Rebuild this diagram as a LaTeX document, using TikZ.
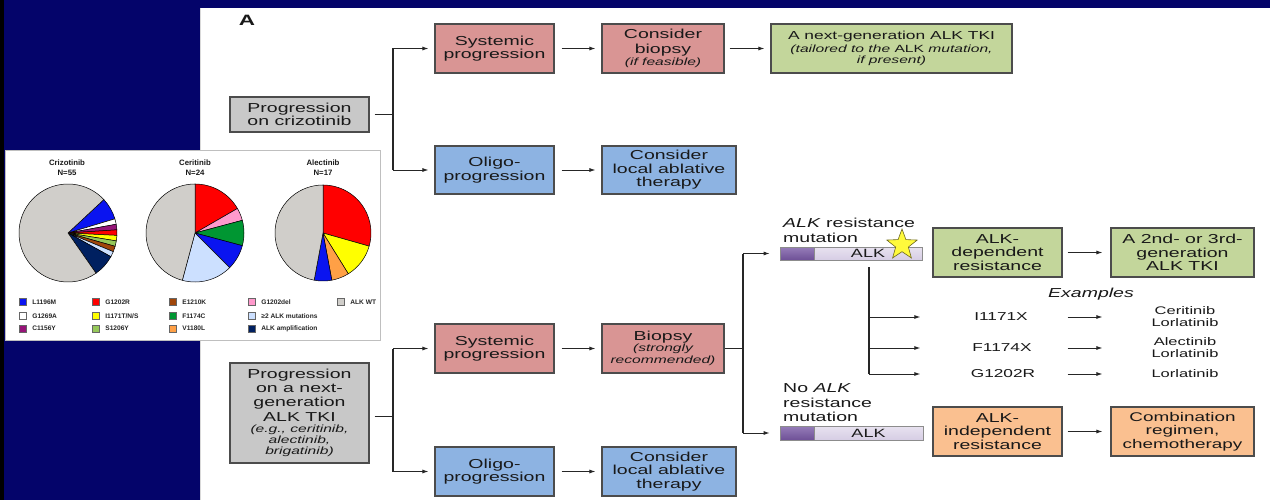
\documentclass[tikz,border=0pt]{standalone}
\usepackage{fontspec}
\setmainfont{Liberation Sans}[FakeStretch=1.5]
\newfontfamily\piefont{Liberation Sans}
\usetikzlibrary{arrows.meta,shapes.geometric}
\definecolor{navy}{RGB}{4,4,106}
\definecolor{boxgray}{RGB}{200,200,200}
\definecolor{boxpink}{RGB}{217,149,148}
\definecolor{boxblue}{RGB}{141,179,226}
\definecolor{boxgreen}{RGB}{195,214,155}
\definecolor{boxorange}{RGB}{250,192,144}
\definecolor{piegray}{RGB}{208,206,202}
\definecolor{pblue}{RGB}{10,20,240}
\definecolor{pred}{RGB}{255,0,0}
\definecolor{pgreen}{RGB}{0,150,50}
\definecolor{pyellow}{RGB}{255,255,0}
\definecolor{ppink}{RGB}{255,153,204}
\definecolor{plblue}{RGB}{204,224,255}
\definecolor{pnavy}{RGB}{0,32,96}
\definecolor{pbrown}{RGB}{160,70,10}
\definecolor{ppurple}{RGB}{150,20,120}
\definecolor{plgreen}{RGB}{150,200,90}
\definecolor{porange}{RGB}{255,160,70}
\definecolor{pwhite}{RGB}{255,255,255}
\definecolor{alkdark}{RGB}{110,80,150}
\definecolor{alklight}{RGB}{150,125,185}
\definecolor{alkpale}{RGB}{232,226,240}
\definecolor{alkpale2}{RGB}{214,205,228}
\definecolor{stary}{RGB}{255,250,60}
\newcommand\subit[1]{{\fontsize{10.4}{12}\selectfont\itshape #1}}
\begin{document}
\begin{tikzpicture}[x=1pt,y=-1pt,
  box/.style={draw=black!70, line width=1.1pt, align=center, inner sep=0pt,
    text=black!90, font=\fontsize{13}{13.5}\selectfont},
  conn/.style={line width=1pt, draw=black!85},
  branch/.style={line width=1.8pt, draw=black!85},
  arr/.style={line width=0.9pt, draw=black!85, -{Latex[length=6pt,width=4pt]}},
  lbl/.style={inner sep=0pt, text=black!90},
  ptitle/.style={inner sep=0pt, align=center, text=black!90, font=\piefont\bfseries\fontsize{7.8}{10}\selectfont},
  legtext/.style={inner sep=0pt, anchor=west, text=black!85, font=\piefont\bfseries\fontsize{6.6}{7}\selectfont},
  swatch/.style={draw=black!60, line width=0.4pt, minimum size=7pt, inner sep=0pt},
  slice/.style={draw=black, line width=0.5pt},
]
\useasboundingbox (0,0) rectangle (1270,500);
% background
\fill[navy] (0,0) rectangle (1270,8);
\fill[navy] (0,0) rectangle (200,500);
\fill[black] (0,0) rectangle (4,500);
\fill[white] (200,8) rectangle (1270,500);
\draw[black!15, line width=0.6pt] (200.3,8) -- (200.3,500);

\node[font=\bfseries\fontsize{15}{15}\selectfont, lbl] (lblA) at (247,20) {A};

% ---------- top section ----------
\node[box, fill=boxgray, minimum width=139, minimum height=35, font=\fontsize{13}{13.3}\selectfont] (prog1) at (299.5,114.5) {Progression\\on crizotinib};
\node[box, fill=boxpink, minimum width=119, minimum height=49] (sys1) at (494.5,48.5) {Systemic\\progression};
\node[box, fill=boxpink, minimum width=122, minimum height=49] (biop1) at (663,48.5) {Consider\\[1.2pt]biopsy\\[-1.5pt]\subit{(if feasible)}};
\node[box, fill=boxgreen, minimum width=241, minimum height=49, font=\fontsize{11.6}{13.5}\selectfont] (nextgen) at (891.5,48.5) {A next-generation ALK TKI\\[-1pt]\subit{(tailored to the \upshape ALK \itshape mutation,}\\[-2.5pt]\subit{if present)}};
\node[box, fill=boxblue, minimum width=119, minimum height=48] (oligo1) at (494.5,170) {Oligo-\\progression};
\node[box, fill=boxblue, minimum width=134, minimum height=48] (local1) at (669,170) {Consider\\local ablative\\therapy};

\coordinate (b1) at (393,114.5);
\draw[conn] ([xshift=5pt]prog1.east) -- (b1);
\draw[branch] (b1 |- sys1.west) -- (b1 |- oligo1.west);
\draw[arr] (b1 |- sys1.west) -- ([xshift=-6pt]sys1.west);
\draw[arr] (b1 |- oligo1.west) -- ([xshift=-6pt]oligo1.west);
\draw[arr] ([xshift=7pt]sys1.east) -- ([xshift=-6pt]biop1.west);
\draw[arr] ([xshift=5pt]biop1.east) -- ([xshift=-6pt]nextgen.west);
\draw[arr] ([xshift=7pt]oligo1.east) -- ([xshift=-6pt]local1.west);

% ---------- bottom section ----------
\node[box, fill=boxgray, minimum width=139, minimum height=100, font=\fontsize{13}{14.3}\selectfont] (prog2) at (299.5,413) {Progression\\on a next-\\generation\\ALK TKI\\[-3.2pt]\subit{(e.g., ceritinib,}\\[-3pt]\subit{alectinib,}\\[-3pt]\subit{brigatinib)}};
\node[box, fill=boxpink, minimum width=119, minimum height=49] (sys2) at (494.5,348.5) {Systemic\\progression};
\node[box, fill=boxpink, minimum width=122, minimum height=49] (biop2) at (663,348.5) {Biopsy\\[-2.5pt]\subit{(strongly}\\[-1.5pt]\subit{recommended)}};
\node[box, fill=boxblue, minimum width=119, minimum height=49] (oligo2) at (494.5,471.5) {Oligo-\\progression};
\node[box, fill=boxblue, minimum width=134, minimum height=49] (local2) at (669,471.5) {Consider\\local ablative\\therapy};

\coordinate (b2) at (393,416);
\draw[conn] ([xshift=5pt]prog2.east |- b2) -- (b2);
\draw[branch] (b2 |- sys2.west) -- (b2 |- oligo2.west);
\draw[arr] (b2 |- sys2.west) -- ([xshift=-6pt]sys2.west);
\draw[arr] (b2 |- oligo2.west) -- ([xshift=-6pt]oligo2.west);
\draw[arr] ([xshift=7pt]sys2.east) -- ([xshift=-6pt]biop2.west);
\draw[arr] ([xshift=7pt]oligo2.east) -- ([xshift=-6pt]local2.west);

% ALK bars
\node[draw=black!45, line width=0.7pt, top color=alklight, bottom color=alkdark, minimum width=34, minimum height=13, inner sep=0] (dom1) at (797,253.5) {};
\node[draw=black!45, line width=0.7pt, top color=alkpale, bottom color=alkpale2, minimum width=108, minimum height=13, inner sep=0, font=\fontsize{12}{12}\selectfont, text=black!90] (alk1) at (868,253.5) {ALK};
\node[draw=black!45, line width=0.7pt, top color=alklight, bottom color=alkdark, minimum width=34, minimum height=14, inner sep=0] (dom2) at (797,433) {};
\node[draw=black!45, line width=0.7pt, top color=alkpale, bottom color=alkpale2, minimum width=109, minimum height=14, inner sep=0, font=\fontsize{12}{12}\selectfont, text=black!90] (alk2) at (868.5,433) {ALK};
\node[star, star points=5, star point ratio=2.4, minimum size=32pt, inner sep=0pt, fill=stary, draw=olive!70!black, line width=0.6pt] (star) at (902,245) {};

\node[lbl, anchor=north west, align=left, font=\fontsize{13}{15}\selectfont] (mutlbl) at (783,217.5) {\textit{ALK} resistance\\mutation};
\node[lbl, anchor=north west, align=left, font=\fontsize{13}{14.5}\selectfont] (nomutlbl) at (783,383.5) {No \textit{ALK}\\resistance\\mutation};

\coordinate (b3) at (743,348.5);
\draw[conn] (biop2.east) -- (b3);
\draw[branch] (b3 |- dom1.west) -- (b3 |- dom2.west);
\draw[arr] (b3 |- dom1.west) -- ([xshift=-10pt]dom1.west);
\draw[arr] (b3 |- dom2.west) -- ([xshift=-10pt]dom2.west);

% right boxes
\node[box, fill=boxgreen, minimum width=129, minimum height=49] (aldep) at (997.5,252.5) {ALK-\\dependent\\resistance};
\node[box, fill=boxgreen, minimum width=143, minimum height=49] (gen23) at (1182.5,252.5) {A 2nd- or 3rd-\\generation\\ALK TKI};
\node[box, fill=boxorange, minimum width=129, minimum height=49] (alindep) at (997.5,431.5) {ALK-\\independent\\resistance};
\node[box, fill=boxorange, minimum width=143, minimum height=49, font=\fontsize{12.6}{13.5}\selectfont] (combo) at (1182.5,431.5) {Combination\\regimen,\\chemotherapy};
\draw[arr] ([xshift=5pt]aldep.east) -- ([xshift=-8pt]gen23.west);
\draw[arr] ([xshift=5pt]alindep.east) -- ([xshift=-8pt]combo.west);

% examples
\node[lbl, font=\itshape\fontsize{13}{13}\selectfont] (ex) at (1091,294) {Examples};
\node[lbl, font=\fontsize{11.5}{12}\selectfont] (m1) at (1001,317) {I1171X};
\node[lbl, font=\fontsize{11.5}{12}\selectfont] (m2) at (1002,348) {F1174X};
\node[lbl, font=\fontsize{11.5}{12}\selectfont] (m3) at (1003,374) {G1202R};
\node[lbl, align=center, font=\fontsize{11}{12}\selectfont] (d1) at (1185,317) {Ceritinib\\Lorlatinib};
\node[lbl, align=center, font=\fontsize{11}{12}\selectfont] (d2) at (1185,348) {Alectinib\\Lorlatinib};
\node[lbl, align=center, font=\fontsize{11}{12}\selectfont] (d3) at (1185,374) {Lorlatinib};

\coordinate (v1) at (869,267);
\draw[branch, line width=1.6pt] (v1) -- (v1 |- m3);
\foreach \m in {m1,m2,m3}{
  \draw[arr] (v1 |- \m) -- ([xshift=-2pt]alk1.east |- \m);
  \draw[arr] ([xshift=5pt]aldep.east |- \m) -- ([xshift=-8pt]gen23.west |- \m);
}

% ---------- pie chart panel ----------
\node[draw=black!25, fill=white, line width=0.8pt, minimum width=375, minimum height=190, inner sep=0] (panel) at (192.5,245) {};
\node[ptitle] (t1) at (67,168) {Crizotinib\\N=55};
\node[ptitle] (t2) at (195,168) {Ceritinib\\N=24};
\node[ptitle] (t3) at (323,168) {Alectinib\\N=17};

\begin{scope}[shift={(68,233)}]
\foreach \a/\b/\c in {43/16.8/pblue, 16.8/10.3/pwhite, 10.3/3.7/ppurple, 3.7/-2.8/pred, -2.8/-9.3/pyellow, -9.3/-15.8/plgreen, -15.8/-22.4/pbrown, -22.4/-28.9/plblue, -28.9/-55.1/pnavy, -55.1/-317/piegray}
  \filldraw[slice, fill=\c] (0pt,0pt) -- (\a:49pt) arc[start angle=\a, end angle=\b, radius=49pt] -- cycle;
\end{scope}
\begin{scope}[shift={(195,233)}]
\foreach \a/\b/\c in {90/30/pred, 30/15/ppink, 15/-15/pgreen, -15/-45/pblue, -45/-105/plblue, -105/-270/piegray}
  \filldraw[slice, fill=\c] (0pt,0pt) -- (\a:49pt) arc[start angle=\a, end angle=\b, radius=49pt] -- cycle;
\end{scope}
\begin{scope}[shift={(323,233)}]
\foreach \a/\b/\c in {90/-15.9/pred, -15.9/-58.2/pyellow, -58.2/-79.4/porange, -79.4/-100.6/pblue, -100.6/-270/piegray}
  \filldraw[slice, fill=\c] (0pt,0pt) -- (\a:48pt) arc[start angle=\a, end angle=\b, radius=48pt] -- cycle;
\end{scope}

% legend
\foreach \x/\y/\c/\t [count=\i] in {
  23/302/pblue/L1196M, 23/316/pwhite/G1269A, 23/328.5/ppurple/C1156Y,
  96/302/pred/G1202R, 96/316/pyellow/I1171T\slash N\slash S, 96/328.5/plgreen/S1206Y,
  173/302/pbrown/E1210K, 173/316/pgreen/F1174C, 173/328.5/porange/V1180L,
  252/302/ppink/G1202del, 252/316/plblue/≥2 ALK mutations, 252/328.5/pnavy/ALK amplification,
  341/302/piegray/ALK WT}{
  \node[swatch, fill=\c] (sw\i) at (\x,\y) {};
  \node[legtext] (lt\i) at ([xshift=5.5pt]sw\i.east) {\t};
}
\end{tikzpicture}
\end{document}
